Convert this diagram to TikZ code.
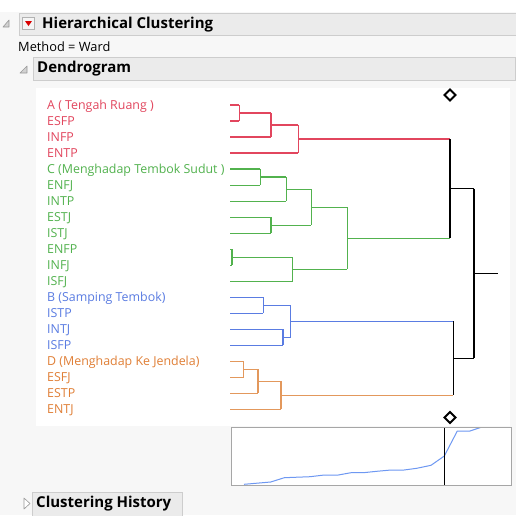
\documentclass[tikz,border=0pt]{standalone}
\usepackage{fontspec}
\setmainfont{Open Sans}
\usetikzlibrary{calc}

\definecolor{jmpred}{HTML}{E2465E}
\definecolor{jmpgreen}{HTML}{52B24E}
\definecolor{jmpblue}{HTML}{5A7CE2}
\definecolor{jmporange}{HTML}{E3985C}
\definecolor{orangetext}{HTML}{E07F36}
\definecolor{plotblue}{HTML}{6E98F2}
\definecolor{bgfill}{HTML}{F7F7F7}
\definecolor{barfill}{HTML}{EBEBEB}
\definecolor{barline}{HTML}{CDCDCD}

\tikzset{
  leaf/.style={anchor=base west, inner sep=0pt, font=\fontsize{12.4}{14}\selectfont},
  head/.style={anchor=west, inner sep=0pt, font=\bfseries\fontsize{15}{17}\selectfont},
  bar/.style={fill=barfill, draw=barline, line width=1pt},
  tri/.style={fill=gray!35, draw=gray!80, line width=0.6pt, line join=round},
  link/.style={line width=1.2pt},
  marker/.style={draw=black, fill=white, line width=2pt},
}

\begin{document}
\begin{tikzpicture}[x=1pt, y=-1pt]
	\def\yA{105}
	\def\dy{16.02}

	% link of two children at x position #4
	\def\dlink#1#2#3#4#5#6#7{
		\coordinate (#1c) at ($(#2)!0.5!(#3)$);
		\coordinate (#1) at (#1c -| #4,0);
		\draw[link, #5] (#2) -- (#2 -| #1);
		\draw[link, #6] (#3) -- (#3 -| #1);
		\draw[link, #7] (#2 -| #1) -- (#3 -| #1);
	}

	\useasboundingbox (0,0) rectangle (516,515);
	\fill[bgfill] (0,0) rectangle (516,515);
	\fill[white] (0,0) rectangle (516,12);
	\fill[white] (36,88) rectangle (510,426);

	\begin{scope}
		\draw[bar] (19,13.5) rectangle (516,35);
		\draw[tri] (3,27) -- (9,27) -- (9,20) -- cycle;
		\draw[fill=gray!8, draw=gray!60] (22.5,17.5) rectangle (34.5,29.5);
		\fill[red!85!black] (25,21) -- (32,21) -- (28.5,26) -- cycle;
		\node[head] (title) at (42,24.5) {Hierarchical Clustering};
		\node[leaf, font=\fontsize{12.8}{14}\selectfont] (method) at (18,51.5) {Method = Ward};

		\draw[bar] (33,57.5) rectangle (515,80);
		\draw[tri] (20,73) -- (27,73) -- (27,66) -- cycle;
		\node[head] (dendro) at (37,69) {Dendrogram};

		\draw[bar] (32,492.5) rectangle (182,516);
		\draw[fill=white, draw=gray!80, line width=0.6pt, line join=round] (24,498) -- (30,503.5) -- (24,509) -- cycle;
		\node[head] (history) at (36,504) {Clustering History};
	\end{scope}

	\foreach \i in {0,...,19}
		\coordinate (l\i) at (230,\yA+\i*\dy);

	\foreach \txt [count=\i from 0] in {A ( Tengah Ruang ), ESFP, INFP, ENTP}
		\node[leaf, text=jmpred] (t\i) at (47,\yA+4.3+\i*\dy) {\txt};
	\foreach \txt [count=\i from 4] in {C (Menghadap Tembok Sudut ), ENFJ, INTP, ESTJ, ISTJ, ENFP, INFJ, ISFJ}
		\node[leaf, text=jmpgreen] (t\i) at (47,\yA+4.3+\i*\dy) {\txt};
	\foreach \txt [count=\i from 12] in {B (Samping Tembok), ISTP, INTJ, ISFP}
		\node[leaf, text=jmpblue] (t\i) at (47,\yA+4.3+\i*\dy) {\txt};
	\foreach \txt [count=\i from 16] in {D (Menghadap Ke Jendela), ESFJ, ESTP, ENTJ}
		\node[leaf, text=orangetext] (t\i) at (47,\yA+4.3+\i*\dy) {\txt};

	\dlink{r1}{l0}{l1}{239.3}{jmpred}{jmpred}{jmpred}
	\dlink{r2}{r1}{l2}{271}{jmpred}{jmpred}{jmpred}
	\dlink{r3}{r2}{l3}{298.3}{jmpred}{jmpred}{jmpred}

	\dlink{g1}{l4}{l5}{260.3}{jmpgreen}{jmpgreen}{jmpgreen}
	\dlink{g2}{g1}{l6}{286.3}{jmpgreen}{jmpgreen}{jmpgreen}
	\dlink{g3}{l7}{l8}{271}{jmpgreen}{jmpgreen}{jmpgreen}
	\dlink{g4}{g2}{g3}{311.3}{jmpgreen}{jmpgreen}{jmpgreen}
	\dlink{g5}{l9}{l10}{232}{jmpgreen}{jmpgreen}{jmpgreen}
	\dlink{g6}{g5}{l11}{292.7}{jmpgreen}{jmpgreen}{jmpgreen}
	\dlink{g7}{g4}{g6}{347.3}{jmpgreen}{jmpgreen}{jmpgreen}

	\dlink{b1}{l12}{l13}{263.3}{jmpblue}{jmpblue}{jmpblue}
	\dlink{b2}{l14}{l15}{283}{jmpblue}{jmpblue}{jmpblue}
	\dlink{b3}{b1}{b2}{290.7}{jmpblue}{jmpblue}{jmpblue}

	\dlink{o1}{l16}{l17}{243.7}{jmporange}{jmporange}{jmporange}
	\dlink{o2}{o1}{l18}{258}{jmporange}{jmporange}{jmporange}
	\dlink{o3}{o2}{l19}{281}{jmporange}{jmporange}{jmporange}

	\dlink{k1}{r3}{g7}{450}{jmpred}{jmpgreen}{black}
	\dlink{k2}{b3}{o3}{453.3}{jmpblue}{jmporange}{black}
	\dlink{k3}{k1}{k2}{474}{black}{black}{black}
	\coordinate (root) at (k3 -| 498.3,0);
	\draw[link] (k3) -- (root);

	\draw[marker] (450,89.5) -- (455.5,95) -- (450,100.5) -- (444.5,95) -- cycle;
	\draw[marker] (450,412) -- (455.5,417.5) -- (450,423) -- (444.5,417.5) -- cycle;

	% distance plot
	\fill[white] (231.5,427) rectangle (511,485);
	\begin{scope}
		\clip (231.5,427) rectangle (511,485);
		\draw[plotblue, line width=1pt, line join=round] plot coordinates {
			(244,484.3) (270.7,482) (284.3,477.7) (310,476.7) (324.3,475)
			(338.3,475) (351,472.7) (363.3,472.7) (376.7,471.3) (391,470)
			(404,470) (416.7,468.3) (431,465.3) (444.3,456) (457.3,431)
			(470,431) (482,427) (490,424)};
		\draw[black, line width=1pt] (444.3,427) -- (444.3,485);
	\end{scope}
	\draw[gray!70, line width=1pt] (231.5,427) rectangle (511,485);
\end{tikzpicture}
\end{document}
